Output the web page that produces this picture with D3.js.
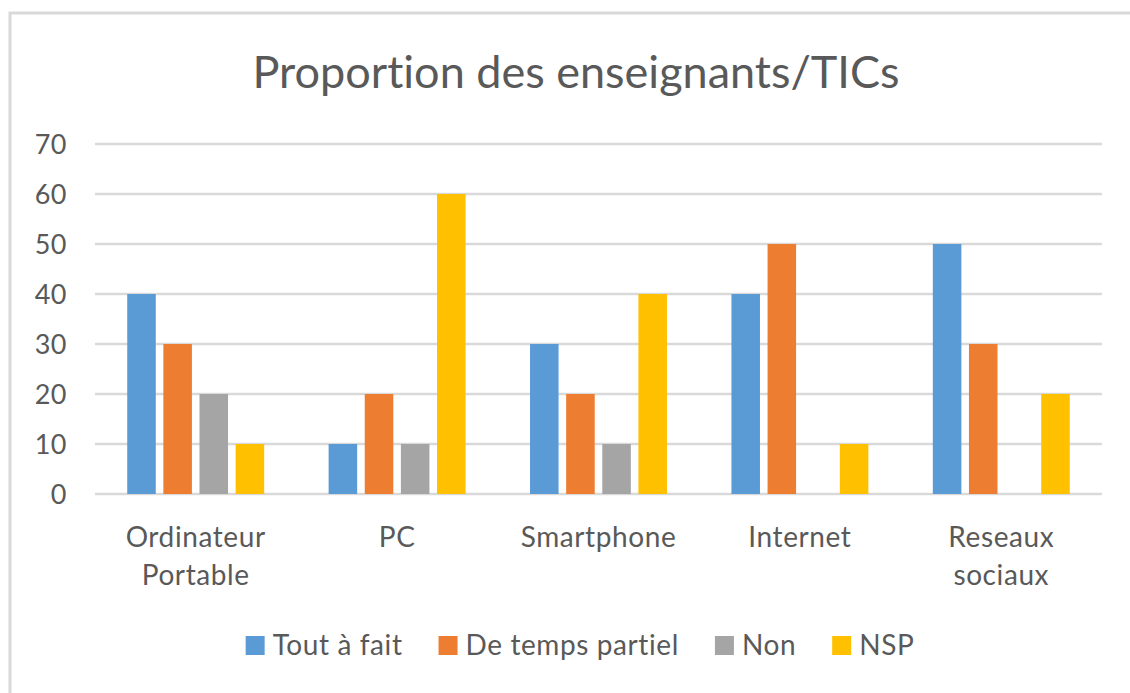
<!DOCTYPE html>
<html>
<head>
<meta charset="utf-8">
<script src="https://cdn.jsdelivr.net/npm/d3@7"></script>
<style>
    body { margin: 0; background: #fff; }
    text { font-family: Lato, "Open Sans", sans-serif; fill: #595959; font-variant-ligatures: none; }
</style>
</head>
<body>
<div id="chart"></div>
<script>
const categories = [["Ordinateur", "Portable"], ["PC"], ["Smartphone"], ["Internet"], ["Reseaux", "sociaux"]]
const series = ["Tout à fait", "De temps partiel", "Non", "NSP"]
const tout_a_fait = [40, 10, 30, 40, 50]
const temps_partiel = [30, 20, 20, 50, 30]
const non = [20, 10, 10, 0, 0]
const nsp = [10, 60, 40, 10, 20]
const y_ticks = [0, 10, 20, 30, 40, 50, 60, 70]
const colors = ["#5B9BD5", "#ED7D31", "#A5A5A5", "#FFC000"]
const title = "Proportion des enseignants/TICs"

const W = 1130, H = 693
const cat_keys = categories.map(c => c.join(" "))
const values = [tout_a_fait, temps_partiel, non, nsp]
const data = cat_keys.map((k, i) => {
    const row = { cat: k }
    series.forEach((s, j) => { row[s] = values[j][i] })
    return row
})

const margin = { top: 144, right: 28, bottom: 199, left: 95 }
const width = W - margin.left - margin.right
const height = H - margin.top - margin.bottom

const svg = d3.select("#chart").append("svg")
    .attr("width", W)
    .attr("height", H)

// chart frame (cropped on the right and bottom)
svg.append("rect")
    .attr("x", 10).attr("y", 13)
    .attr("width", W + 20).attr("height", H + 20)
    .attr("fill", "none")
    .attr("stroke", "#d9d9d9")
    .attr("stroke-width", 3)

const g = svg.append("g")
    .attr("transform", `translate(${margin.left},${margin.top})`)

const x0 = d3.scaleBand()
    .domain(cat_keys)
    .range([0, width])
    .paddingInner(0.32)
    .paddingOuter(0.16)

const x1 = d3.scaleBand()
    .domain(series)
    .range([0, x0.bandwidth()])
    .paddingInner(0.21)

const y = d3.scaleLinear()
    .domain([0, 70])
    .range([height, 0])

// gridlines
g.append("g")
    .selectAll("line")
    .data(y_ticks)
    .enter().append("line")
    .attr("x1", 0)
    .attr("x2", width)
    .attr("y1", d => y(d))
    .attr("y2", d => y(d))
    .attr("stroke", "#d9d9d9")
    .attr("stroke-width", 2.5)

// y axis labels
const yAxis = g.append("g")
    .attr("transform", "translate(-28,0)")
    .call(d3.axisLeft(y).tickValues(y_ticks).tickSize(0).tickPadding(0))
yAxis.select(".domain").remove()
yAxis.selectAll("text")
    .style("font-size", "27px")
    .style("letter-spacing", "0.5px")
    .attr("fill", "#595959")
    .attr("dy", "0.36em")
    .style("font-family", "Lato, 'Open Sans', sans-serif")

// bars
g.append("g")
    .selectAll("g")
    .data(data)
    .enter().append("g")
    .attr("transform", d => `translate(${x0(d.cat)},0)`)
    .selectAll("rect")
    .data(d => series.map((s, j) => ({ key: s, value: d[s], j: j })))
    .enter().append("rect")
    .attr("x", d => x1(d.key))
    .attr("y", d => y(d.value))
    .attr("width", x1.bandwidth())
    .attr("height", d => y(0) - y(d.value))
    .attr("fill", d => colors[d.j])

// category labels
const catLabels = g.append("g")
    .selectAll("text")
    .data(categories)
    .enter().append("text")
    .attr("x", (d, i) => x0(cat_keys[i]) + x0.bandwidth() / 2)
    .attr("y", height + 53)
    .attr("text-anchor", "middle")
    .style("font-size", "28px")
    .style("letter-spacing", "0.6px")
catLabels.selectAll("tspan")
    .data(d => d)
    .enter().append("tspan")
    .attr("x", function () { return this.parentNode.getAttribute("x") })
    .attr("dy", (d, i) => i === 0 ? 0 : 38)
    .text(d => d)

// title
svg.append("text")
    .attr("x", 576)
    .attr("y", 88)
    .attr("text-anchor", "middle")
    .style("font-size", "45px")
    .text(title)

// legend
const legend = svg.append("g")
const items = legend.selectAll("g")
    .data(series)
    .enter().append("g")
items.append("rect")
    .attr("width", 19)
    .attr("height", 19)
    .attr("y", 636)
    .attr("fill", (d, i) => colors[i])
items.append("text")
    .attr("x", 27)
    .attr("y", 655)
    .style("font-size", "28px")
    .style("letter-spacing", "0.6px")
    .text(d => d)
let pos = 0
const offsets = []
items.each(function () {
    offsets.push(pos)
    pos += this.getBBox().width + 36
})
const total = pos - 36
const start = 580 - total / 2
items.attr("transform", (d, i) => `translate(${start + offsets[i]},0)`)
</script>
</body>
</html>
